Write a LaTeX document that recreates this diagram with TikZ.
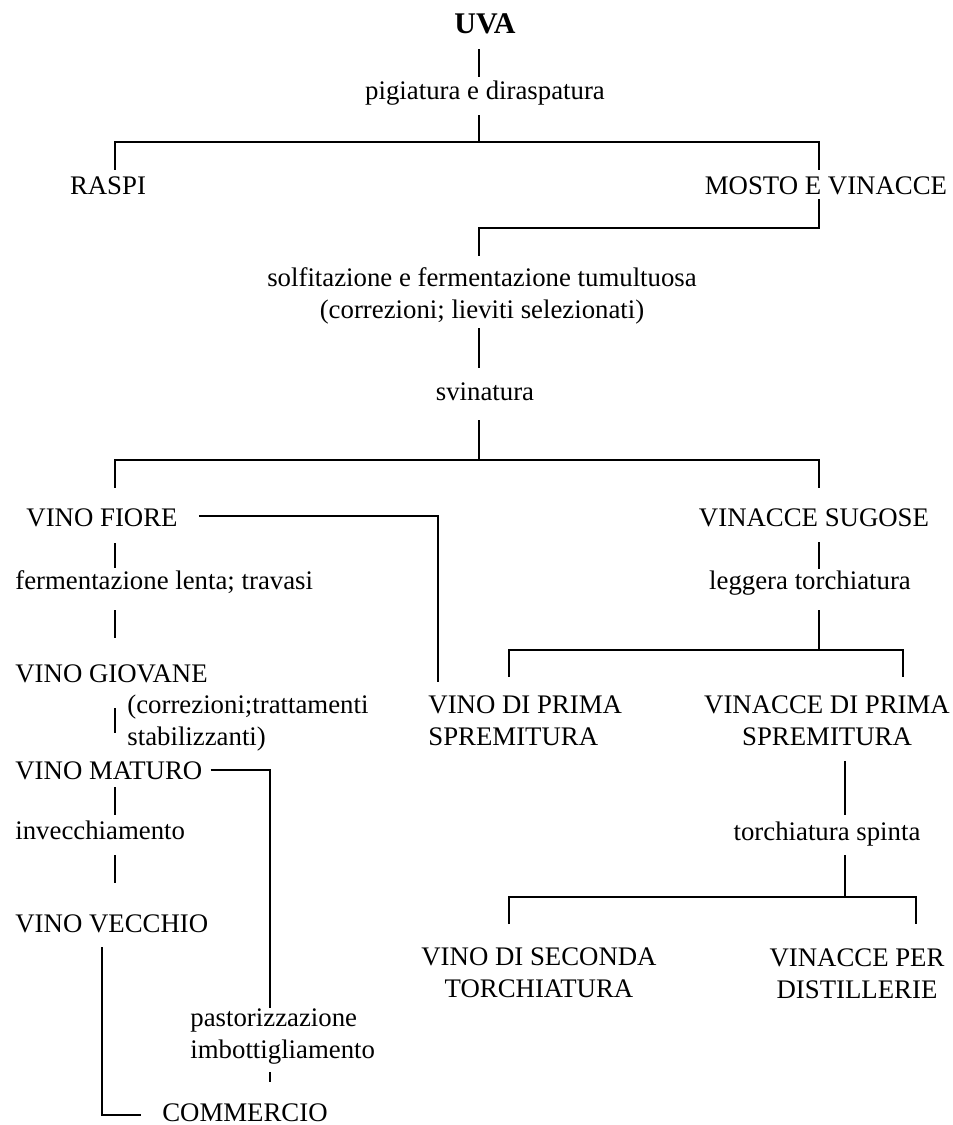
\documentclass[tikz,border=0pt]{standalone}
\usepackage{fontspec}
\setmainfont{Liberation Serif}

\begin{document}
\begin{tikzpicture}[x=0.5pt,y=0.5pt,font=\fontsize{13.4}{16}\selectfont,
  lbl/.style={inner sep=0pt,text height=9pt,text depth=2.5pt,anchor=base},
  blk/.style={inner sep=0pt,align=center,anchor=north},
  link/.style={line width=1pt}]
\useasboundingbox (0,0) rectangle (953,-1125);
% columns of the vertical lines and the forks
\coordinate (cL) at (115,0);
\coordinate (cR) at (819,0);
\coordinate (cP) at (438,0);
\coordinate (cS) at (509,0);
\coordinate (cT) at (903,0);
\coordinate (cU) at (845,0);
\coordinate (cW) at (916,0);
\coordinate (cQ) at (270,0);
\coordinate (cV) at (102,0);
\coordinate (f1) at (479,-142);
\coordinate (f2) at (479,-228);
\coordinate (f3) at (479,-460);
\coordinate (f4) at (819,-650);
\coordinate (f5) at (845,-897);
% top
\node[lbl,font=\fontsize{15}{18}\selectfont\bfseries] (uva) at (485,-33) {UVA};
\node[lbl] (pig) at (485,-99) {pigiatura e diraspatura};
\node[lbl] (raspi) at (108,-194) {RASPI};
\node[lbl] (mosto) at (826,-194) {MOSTO E VINACCE};
\node[blk] (solf) at (482,-267) {solfitazione e fermentazione tumultuosa\\(correzioni; lieviti selezionati)};
\node[lbl] (svin) at (485,-400) {svinatura};
% left branch
\node[lbl] (fiore) at (102,-526) {VINO FIORE};
\node[lbl,anchor=base west] (lenta) at (15,-589) {fermentazione lenta; travasi};
\node[lbl,anchor=base west] (giov) at (15,-682) {VINO GIOVANE};
\node[blk,align=left,anchor=north west] (corr) at (127,-694) {(correzioni;trattamenti\\stabilizzanti)};
\node[lbl,anchor=base west] (mat) at (15,-779) {VINO MATURO};
\node[lbl,anchor=base west] (invec) at (15,-839) {invecchiamento};
\node[lbl,anchor=base west] (vecc) at (15,-932) {VINO VECCHIO};
\node[blk,align=left,anchor=north west] (past) at (190,-1008) {pastorizzazione\\imbottigliamento};
\node[lbl] (comm) at (245,-1121) {COMMERCIO};
% right branch
\node[lbl] (sug) at (814,-526) {VINACCE SUGOSE};
\node[lbl] (legg) at (810,-589) {leggera torchiatura};
\node[blk,align=left,anchor=north west] (vprima) at (428,-695) {VINO DI PRIMA\\SPREMITURA};
\node[blk] (vinprima) at (827,-695) {VINACCE DI PRIMA\\SPREMITURA};
\node[lbl] (torch) at (827,-840) {torchiatura spinta};
\node[blk] (sec) at (539,-947) {VINO DI SECONDA\\TORCHIATURA};
\node[blk] (distil) at (857,-948) {VINACCE PER\\DISTILLERIE};
% links
\draw[link,shorten <=5.5pt,shorten >=2pt] (uva.south -| f1) -- (pig.north -| f1);
\draw[link,shorten <=5.5pt] (pig.south -| f1) -- (f1);
\draw[link,shorten <=3pt,shorten >=3pt] (raspi.north -| cL) |- (f1) -| (mosto.north -| cR);
\draw[link,shorten >=5.5pt] (mosto.south -| cR) |- (f2) -- (solf.north -| f2);
\draw[link,shorten <=2pt,shorten >=7pt] (solf.south -| f2) -- (svin.north -| f2);
\draw[link,shorten <=7.5pt] (svin.south -| f3) -- (f3);
\draw[link,shorten <=10pt,shorten >=10pt] (fiore.north -| cL) |- (f3) -| (sug.north -| cR);
\draw[link,shorten <=6pt,shorten >=1.5pt] (fiore.south -| cL) -- (lenta.north -| cL);
\draw[link,shorten <=8pt,shorten >=13pt] (lenta.south -| cL) -- (giov.north -| cL);
\draw[link,shorten <=10.5pt,shorten >=14pt] (giov.south -| cL) -- (mat.north -| cL);
\draw[link,shorten <=1.5pt,shorten >=3pt] (mat.south -| cL) -- (invec.north -| cL);
\draw[link,shorten <=5.5pt,shorten >=15.5pt] (invec.south -| cL) -- (vecc.north -| cL);
\draw[link,shorten <=10.5pt,shorten >=6.5pt] ([yshift=2pt]fiore.east) -| (vprima.north -| cP);
\draw[link,shorten <=4pt] ([yshift=1.25pt]mat.east) -| (past.north -| cQ);
\draw[link,shorten <=4pt,shorten >=10.5pt] (past.south -| cQ) -- (comm.north -| cQ);
\draw[link,shorten <=5pt,shorten >=10.5pt] (vecc.south -| cV) |- (comm.west);
\draw[link,shorten <=5.5pt,shorten >=1pt] (sug.south -| cR) -- (legg.north -| cR);
\draw[link,shorten <=8pt] (legg.south -| f4) -- (f4);
\draw[link,shorten <=9pt,shorten >=9pt] (vprima.north -| cS) |- (f4) -| (vinprima.north -| cT);
\draw[link,shorten <=7.5pt,shorten >=3.5pt] (vinprima.south -| cU) -- (torch.north -| cU);
\draw[link,shorten <=5pt] (torch.south -| f5) -- (f5);
\draw[link,shorten <=11.5pt,shorten >=12pt] (sec.north -| cS) |- (f5) -| (distil.north -| cW);
\end{tikzpicture}
\end{document}
